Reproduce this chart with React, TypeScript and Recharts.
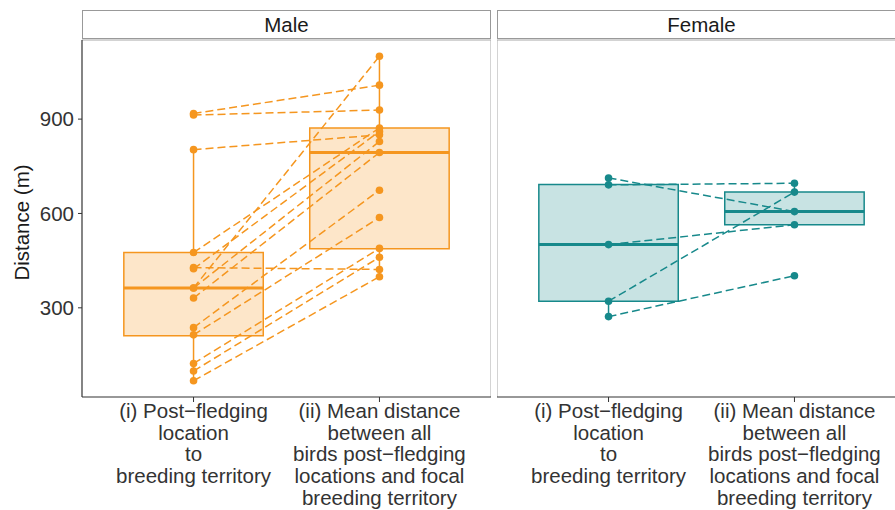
import React from "react";
import { ComposedChart, XAxis, YAxis, Scatter, ReferenceArea, ReferenceLine } from "recharts";

// ---------- data ----------
const categories = [1, 2];
const categoryLabels = [
  ["(i) Post\u2212fledging", "location", "to", "breeding territory"],
  ["(ii) Mean distance", "between all", "birds post\u2212fledging", "locations and focal", "breeding territory"],
];
const panelNames = ["Male", "Female"];
const yTicks = [300, 600, 900];

// paired values per bird: (i) post-fledging -> territory, (ii) mean distance
const maleFledging = [918, 913, 803, 476, 428, 424, 363, 363, 331, 237, 214, 123, 99, 68];
const maleMean = [1008, 929, 850, 872, 422, 861, 1100, 829, 794, 674, 587, 489, 461, 399];
const femaleFledging = [713, 691, 501, 321, 272];
const femaleMean = [606, 696, 564, 668, 402];

// box statistics: [lower whisker, q1, median, q3, upper whisker]
const maleBoxFledging = [68, 211, 363, 476, 803];
const maleBoxMean = [399, 488, 794, 872, 1100];
const femaleBoxFledging = [272, 321, 501, 692, 713];
const femaleBoxMean = [564, 564, 606, 668, 696];

const X_DOMAIN: [number, number] = [0.4, 2.6];
const Y_DOMAIN: [number, number] = [16.4, 1151.6];
const BOX_HALF = 0.375;

const FONT = '"Liberation Sans", Arial, Helvetica, sans-serif';
const FS = 20.5;
const MALE_COLOR = "#F5961F";
const FEMALE_COLOR = "#17898B";

const XTick = (props: any) => {
  const { x, y, payload } = props;
  const lines = categoryLabels[Math.round(payload.value) - 1] || [];
  return (
    <text x={x} y={y} textAnchor="middle" fill="#333333" fontSize={FS} fontFamily={FONT}>
      {lines.map((l, i) => (
        <tspan key={i} x={x} dy={i === 0 ? 14 : 21.7}>
          {l}
        </tspan>
      ))}
    </text>
  );
};

function renderBox(cat: number, stats: number[], color: string, key: string) {
  const [lo, q1, med, q3, hi] = stats;
  const els: any[] = [];
  if (hi > q3)
    els.push(
      <ReferenceLine
        key={key + "wh"}
        segment={[{ x: cat, y: q3 }, { x: cat, y: hi }]}
        stroke={color}
        strokeWidth={1.5}
        ifOverflow="visible"
      />
    );
  if (lo < q1)
    els.push(
      <ReferenceLine
        key={key + "wl"}
        segment={[{ x: cat, y: lo }, { x: cat, y: q1 }]}
        stroke={color}
        strokeWidth={1.5}
        ifOverflow="visible"
      />
    );
  els.push(
    <ReferenceArea
      key={key + "box"}
      x1={cat - BOX_HALF}
      x2={cat + BOX_HALF}
      y1={q1}
      y2={q3}
      fill={color}
      fillOpacity={0.24}
      stroke={color}
      strokeWidth={1.5}
      strokeOpacity={1}
      ifOverflow="visible"
    />
  );
  els.push(
    <ReferenceLine
      key={key + "med"}
      segment={[{ x: cat - BOX_HALF, y: med }, { x: cat + BOX_HALF, y: med }]}
      stroke={color}
      strokeWidth={3}
      ifOverflow="visible"
    />
  );
  return els;
}

function Panel({
  width,
  showY,
  color,
  first,
  second,
  boxes,
}: {
  width: number;
  showY: boolean;
  color: string;
  first: number[];
  second: number[];
  boxes: number[][];
}) {
  const pairs = first.map((v, i) => [
    { x: categories[0], y: v },
    { x: categories[1], y: second[i] },
  ]);
  return (
    <ComposedChart width={width} height={510} margin={{ top: 40, right: 0, bottom: 0, left: 0 }}>
      <XAxis
        type="number"
        dataKey="x"
        domain={X_DOMAIN}
        ticks={categories}
        interval={0}
        height={113}
        tickSize={5}
        tickLine={{ stroke: "#333333" }}
        axisLine={{ stroke: "#333333", strokeWidth: 1.2 }}
        tick={<XTick />}
        allowDataOverflow
      />
      <YAxis
        type="number"
        dataKey="y"
        domain={Y_DOMAIN}
        ticks={yTicks}
        hide={!showY}
        width={82}
        tickSize={4}
        tickMargin={4}
        tickLine={{ stroke: "#333333" }}
        axisLine={{ stroke: "#333333", strokeWidth: 1.2 }}
        tick={{ fontSize: FS, fill: "#333333", fontFamily: FONT }}
        allowDataOverflow
        label={{
          value: "Distance (m)",
          angle: -90,
          position: "insideLeft",
          offset: 22,
          dy: 4,
          style: { textAnchor: "middle", fontSize: FS, fill: "#1a1a1a", fontFamily: FONT },
        }}
      />
      <ReferenceLine y={Y_DOMAIN[1]} stroke="#a8a8a8" strokeWidth={1} ifOverflow="visible" />
      <ReferenceLine x={X_DOMAIN[1]} stroke="#a8a8a8" strokeWidth={1} ifOverflow="visible" />
      {!showY && <ReferenceLine x={X_DOMAIN[0]} stroke="#a8a8a8" strokeWidth={1} ifOverflow="visible" />}
      {renderBox(categories[0], boxes[0], color, "b1")}
      {renderBox(categories[1], boxes[1], color, "b2")}
      {pairs.map((p, i) => (
        <Scatter
          key={"p" + i}
          data={p}
          fill={color}
          isAnimationActive={false}
          line={{ stroke: color, strokeWidth: 1.5, strokeDasharray: "8 4" }}
          lineType="joint"
          shape={(s: any) => <circle cx={s.cx} cy={s.cy} r={3.8} fill={color} />}
        />
      ))}
    </ComposedChart>
  );
}

const stripStyle = (left: number): React.CSSProperties => ({
  position: "absolute",
  left,
  top: 10,
  width: 409,
  height: 29,
  boxSizing: "border-box",
  border: "1px solid #999999",
  background: "#ffffff",
  textAlign: "center",
  lineHeight: "27px",
  fontSize: FS,
  color: "#1a1a1a",
  fontFamily: FONT,
});

export default function App() {
  return (
    <div
      style={{
        position: "absolute",
        left: 0,
        top: 0,
        width: 895,
        height: 510,
        overflow: "hidden",
        background: "#ffffff",
        fontFamily: FONT,
      }}
    >
      <div style={{ position: "absolute", left: 0, top: 0 }}>
        <Panel
          width={491}
          showY={true}
          color={MALE_COLOR}
          first={maleFledging}
          second={maleMean}
          boxes={[maleBoxFledging, maleBoxMean]}
        />
      </div>
      <div style={{ position: "absolute", left: 497, top: 0 }}>
        <Panel
          width={409}
          showY={false}
          color={FEMALE_COLOR}
          first={femaleFledging}
          second={femaleMean}
          boxes={[femaleBoxFledging, femaleBoxMean]}
        />
      </div>
      <div style={stripStyle(82)}>{panelNames[0]}</div>
      <div style={stripStyle(497)}>{panelNames[1]}</div>
    </div>
  );
}
